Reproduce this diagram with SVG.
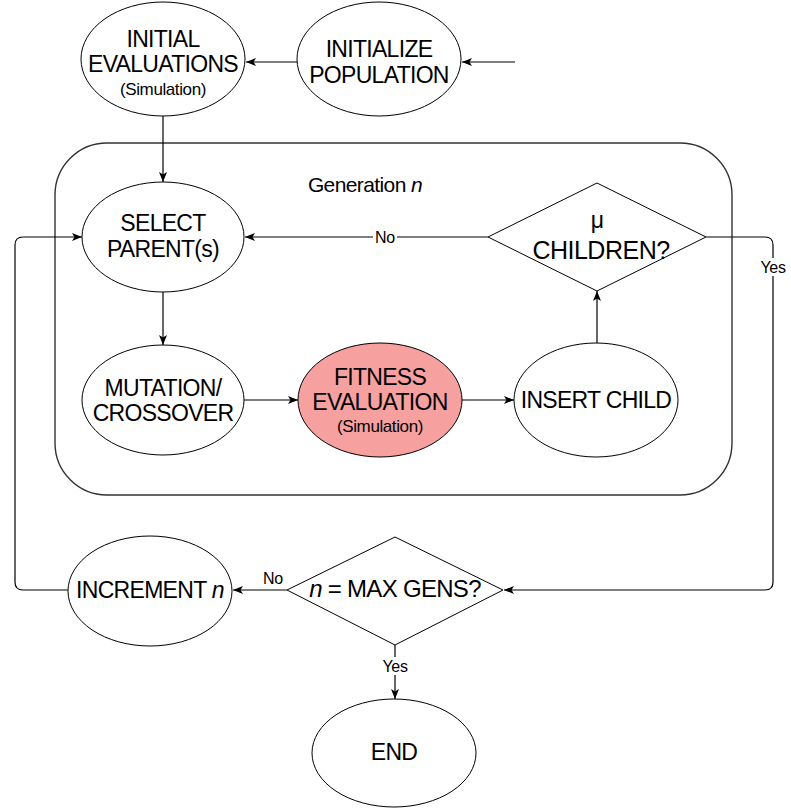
<svg xmlns="http://www.w3.org/2000/svg" width="791" height="808" viewBox="0 0 791 808">
  <defs>
    <marker id="arrow" viewBox="0 0 10 8" refX="10" refY="4" markerWidth="10" markerHeight="8" markerUnits="userSpaceOnUse" orient="auto">
      <path d="M0,0 L10,4 L0,8 L2.5,4 Z" fill="#000"/>
    </marker>
    <style>
      .shape { fill: #fff; stroke: #000; stroke-width: 1; }
      .hot { fill: #f7a0a0; }
      .edge { fill: none; stroke: #000; stroke-width: 1.2; }
      .frame { fill: none; stroke: #333; stroke-width: 1.4; }
      text { font-family: "Liberation Sans", Arial, sans-serif; fill: #000; text-anchor: middle; }
      .big { font-size: 23px; letter-spacing: -0.7px; }
      .small { font-size: 17px; letter-spacing: -0.4px; }
      .lbl { font-size: 16px; letter-spacing: -0.3px; }
      .lblbg { fill: #fff; stroke: none; }
    </style>
  </defs>

  <rect id="generation" class="frame" x="55" y="143" width="677" height="352" rx="52" ry="52"/>
  <text x="365" y="192" style="font-size:21px;letter-spacing:-0.6px">Generation <tspan font-style="italic">n</tspan></text>

  <g id="connectors">
    <path class="edge" d="M515,62 L462,62" marker-end="url(#arrow)"/>
    <path class="edge" d="M297,62 L246,62" marker-end="url(#arrow)"/>
    <path class="edge" d="M163,116 L163,182" marker-end="url(#arrow)"/>
    <path class="edge" d="M488,237 L245,237" marker-end="url(#arrow)"/>
    <path class="edge" d="M706,237 L765,237 Q773,237 773,245 L773,582 Q773,590 765,590 L504,590" marker-end="url(#arrow)"/>
    <path class="edge" d="M163,292 L163,345" marker-end="url(#arrow)"/>
    <path class="edge" d="M244,400 L298,400" marker-end="url(#arrow)"/>
    <path class="edge" d="M462,400 L514,400" marker-end="url(#arrow)"/>
    <path class="edge" d="M597,343 L597,291" marker-end="url(#arrow)"/>
    <path class="edge" d="M287,590 L233,590" marker-end="url(#arrow)"/>
    <path class="edge" d="M68,590 L23,590 Q15,590 15,582 L15,245 Q15,237 23,237 L82,237" marker-end="url(#arrow)"/>
    <path class="edge" d="M395,645 L395,699" marker-end="url(#arrow)"/>
    <!-- edge labels -->
    <rect class="lblbg" x="373" y="228" width="24" height="18"/>
    <text class="lbl" x="385" y="243">No</text>
    <rect class="lblbg" x="759" y="258" width="28" height="18"/>
    <text class="lbl" x="773" y="273">Yes</text>
    <text class="lbl" x="273" y="584">No</text>
    <rect class="lblbg" x="381" y="657" width="28" height="18"/>
    <text class="lbl" x="395" y="672">Yes</text>
  </g>

  <g id="initial-evaluations">
    <ellipse class="shape" cx="163" cy="59" rx="82" ry="57"/>
    <text class="big" x="163" y="47">INITIAL</text>
    <text class="big" x="163" y="72">EVALUATIONS</text>
    <text class="small" x="163" y="95">(Simulation)</text>
  </g>

  <g id="initialize-population">
    <ellipse class="shape" cx="379" cy="59" rx="82" ry="57"/>
    <text class="big" x="379" y="57">INITIALIZE</text>
    <text class="big" x="379" y="83">POPULATION</text>
  </g>

  <g id="select-parents">
    <ellipse class="shape" cx="163" cy="237" rx="81" ry="55"/>
    <text class="big" x="163" y="231">SELECT</text>
    <text class="big" x="163" y="257">PARENT(s)</text>
  </g>

  <g id="mu-children">
    <polygon class="shape" points="488,237 597,183 706,237 597,291"/>
    <text class="big" x="597" y="228">μ</text>
    <text class="big" x="601" y="259" style="font-size:25px;letter-spacing:-0.5px">CHILDREN?</text>
  </g>

  <g id="mutation-crossover">
    <ellipse class="shape" cx="163" cy="400" rx="81" ry="55"/>
    <text class="big" x="163" y="396">MUTATION/</text>
    <text class="big" x="163" y="421">CROSSOVER</text>
  </g>

  <g id="fitness-evaluation">
    <ellipse class="shape hot" cx="380" cy="400" rx="82" ry="57"/>
    <text class="big" x="380" y="385">FITNESS</text>
    <text class="big" x="380" y="410">EVALUATION</text>
    <text class="small" x="380" y="432">(Simulation)</text>
  </g>

  <g id="insert-child">
    <ellipse class="shape" cx="596" cy="400" rx="82" ry="57"/>
    <text class="big" x="596" y="408">INSERT CHILD</text>
  </g>

  <g id="max-gens">
    <polygon class="shape" points="287,590 395,537 503,590 395,645"/>
    <text class="big" x="395" y="597" style="font-size:24px"><tspan font-style="italic">n</tspan> = MAX GENS?</text>
  </g>

  <g id="increment-n">
    <ellipse class="shape" cx="150" cy="591" rx="82" ry="55"/>
    <text class="big" x="150" y="598">INCREMENT <tspan font-style="italic">n</tspan></text>
  </g>

  <g id="end">
    <ellipse class="shape" cx="394" cy="753" rx="82" ry="54"/>
    <text class="big" x="394" y="760">END</text>
  </g>
</svg>
